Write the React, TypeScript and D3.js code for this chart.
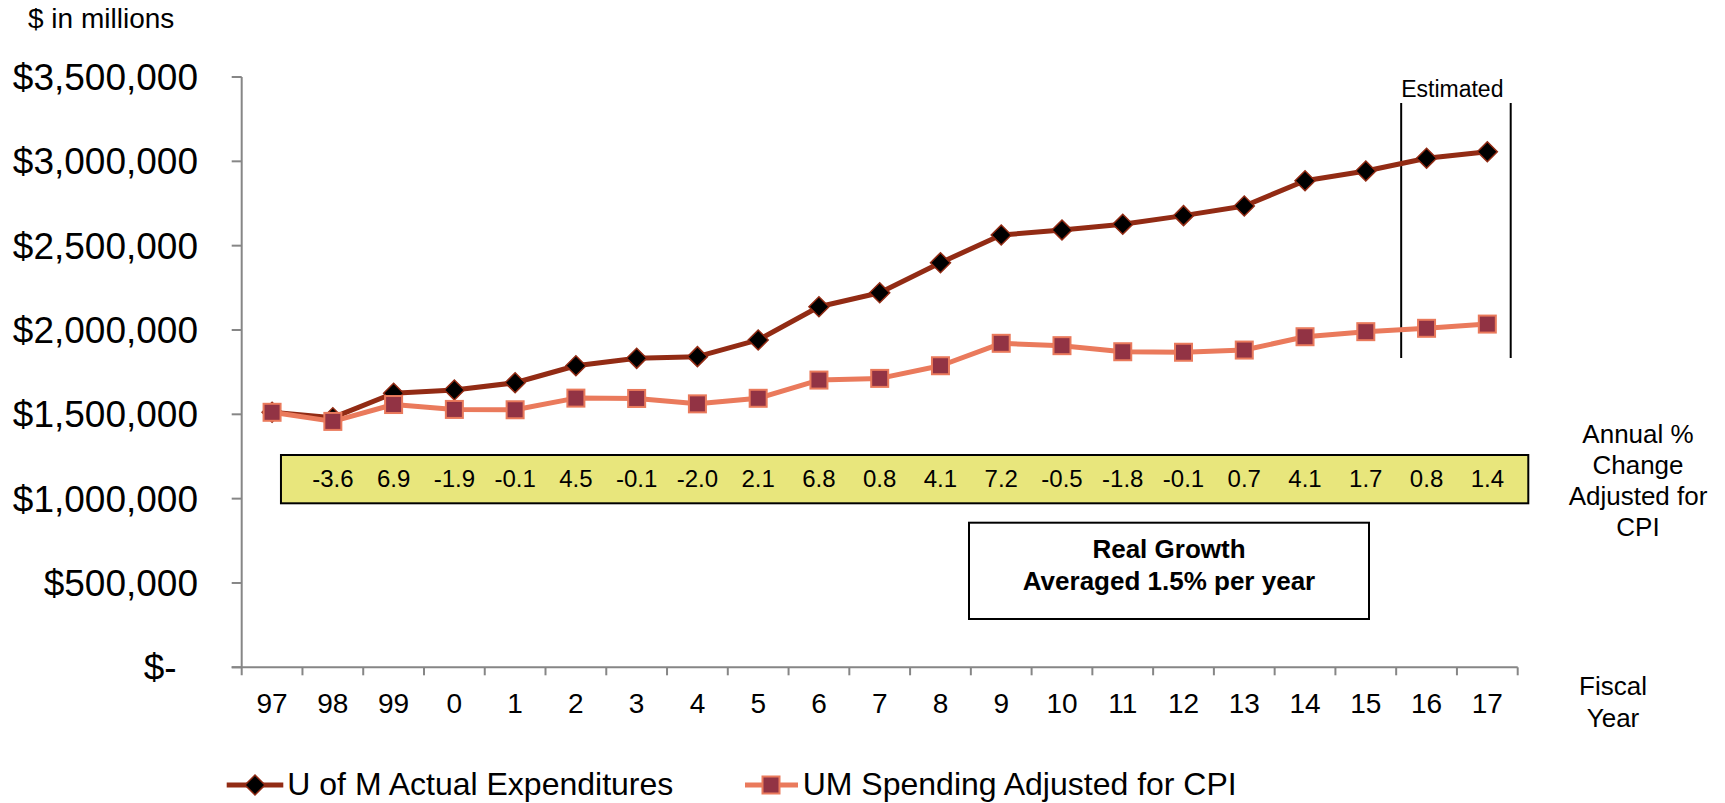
import * as d3 from 'd3';

const years = ['97', '98', '99', '0', '1', '2', '3', '4', '5', '6', '7', '8', '9', '10', '11', '12', '13', '14', '15', '16', '17'];
const actual = [1512000, 1480000, 1625000, 1644000, 1687000, 1788000, 1832000, 1842000, 1941000, 2138000, 2221000, 2399000, 2563000, 2593000, 2627000, 2678000, 2735000, 2885000, 2943000, 3018000, 3057000];
const adjusted = [1512000, 1458000, 1558000, 1529000, 1527000, 1596000, 1594000, 1562000, 1595000, 1703000, 1713000, 1788000, 1921000, 1907000, 1871000, 1868000, 1881000, 1960000, 1990000, 2010000, 2035000];
const pctChange = ['-3.6', '6.9', '-1.9', '-0.1', '4.5', '-0.1', '-2.0', '2.1', '6.8', '0.8', '4.1', '7.2', '-0.5', '-1.8', '-0.1', '0.7', '4.1', '1.7', '0.8', '1.4'];
const yTicks = [0, 500000, 1000000, 1500000, 2000000, 2500000, 3000000, 3500000];

const FONT = 'Liberation Sans, Arial, sans-serif';
const DARK = '#922B14';
const SALMON = '#EA7A5C';
const MAROON = '#923344';
const AXIS = '#868686';

const diamond = (cx, cy, r) => `M${cx},${cy - r}L${cx + r},${cy}L${cx},${cy + r}L${cx - r},${cy}Z`;

export default function App() {
  const width = 1725;
  const height = 803;

  const x = d3.scaleBand().domain(years).range([241.7, 1517.7]).padding(0);
  const y = d3.scaleLinear().domain([0, 3500000]).range([667.3, 77]);
  const cx = (d) => x(d) + x.bandwidth() / 2;
  const fmt = d3.format('$,');

  const line = d3.line().x((d) => cx(d[0])).y((d) => y(d[1]));
  const actualPts = years.map((yr, i) => [yr, actual[i]]);
  const adjPts = years.map((yr, i) => [yr, adjusted[i]]);

  const x0 = x.range()[0];
  const x1 = x.range()[1];
  const y0 = y(0);

  const estL = x('16') + 5;
  const estR = x1 - 7;

  return (
    <svg width={width} height={height} style={{ position: 'absolute', left: 0, top: 0, display: 'block' }} fontFamily={FONT}>
      <rect width={width} height={height} fill="#fff" />

      <text x={28} y={28} fontSize={28}>$ in millions</text>

      {/* y axis */}
      <line x1={x0} x2={x0} y1={y(3500000)} y2={y0 + 8} stroke={AXIS} strokeWidth={2} />
      {yTicks.map((t) => (
        <g key={t}>
          <line x1={x0 - 10} x2={x0} y1={y(t)} y2={y(t)} stroke={AXIS} strokeWidth={2} />
          <text x={t === 0 ? 176.7 : 198} y={y(t)} dy="0.35em" textAnchor="end" fontSize={37}>
            {t === 0 ? '$-' : fmt(t)}
          </text>
        </g>
      ))}

      {/* x axis */}
      <line x1={x0 - 10} x2={x1} y1={y0} y2={y0} stroke={AXIS} strokeWidth={2} />
      {years.map((yr) => (
        <line key={'t' + yr} x1={x(yr) + x.bandwidth()} x2={x(yr) + x.bandwidth()} y1={y0} y2={y0 + 8} stroke={AXIS} strokeWidth={2} />
      ))}
      {years.map((yr) => (
        <text key={'l' + yr} x={cx(yr)} y={713} textAnchor="middle" fontSize={28}>{yr}</text>
      ))}

      <text x={1613} y={695} textAnchor="middle" fontSize={26}>Fiscal</text>
      <text x={1613} y={727} textAnchor="middle" fontSize={26}>Year</text>

      {['Annual %', 'Change', 'Adjusted for', 'CPI'].map((s, i) => (
        <text key={s} x={1638} y={443 + i * 31} textAnchor="middle" fontSize={26}>{s}</text>
      ))}

      {/* estimated bracket */}
      <line x1={estL} x2={estL} y1={103} y2={358} stroke="#000" strokeWidth={2} />
      <line x1={estR} x2={estR} y1={103} y2={358} stroke="#000" strokeWidth={2} />
      <text x={estL} y={97} fontSize={23}>Estimated</text>

      {/* annual change band */}
      <rect x={x('98') - 21.5} y={455} width={x1 + 10.6 - (x('98') - 21.5)} height={48.3} fill="#E8E67C" stroke="#000" strokeWidth={2} />
      {pctChange.map((p, i) => (
        <text key={'p' + i} x={cx(years[i + 1])} y={487} textAnchor="middle" fontSize={24}>{p}</text>
      ))}

      {/* real growth box */}
      <rect x={969} y={522.7} width={400} height={96.3} fill="#fff" stroke="#000" strokeWidth={2} />
      <text x={1169} y={558} textAnchor="middle" fontSize={26} fontWeight="bold">Real Growth</text>
      <text x={1169} y={590} textAnchor="middle" fontSize={26} fontWeight="bold">Averaged 1.5% per year</text>

      {/* series */}
      <path d={line(actualPts)} fill="none" stroke={DARK} strokeWidth={5} strokeLinejoin="round" />
      {actualPts.map((d) => (
        <path key={'d' + d[0]} d={diamond(cx(d[0]), y(d[1]), 10)} fill="#000" stroke={DARK} strokeWidth={1.5} />
      ))}
      <path d={line(adjPts)} fill="none" stroke={SALMON} strokeWidth={5} strokeLinejoin="round" />
      {adjPts.map((d) => (
        <rect key={'s' + d[0]} x={cx(d[0]) - 8.5} y={y(d[1]) - 8.5} width={17} height={17} fill={MAROON} stroke={SALMON} strokeWidth={2} />
      ))}

      {/* legend */}
      <line x1={226.7} x2={283.3} y1={785} y2={785} stroke={DARK} strokeWidth={5} />
      <path d={diamond(255, 785, 10)} fill="#000" stroke={DARK} strokeWidth={1.5} />
      <text x={287.3} y={795} fontSize={32}>U of M Actual Expenditures</text>

      <line x1={745} x2={798} y1={785} y2={785} stroke={SALMON} strokeWidth={5} />
      <rect x={771 - 8.5} y={785 - 8.5} width={17} height={17} fill={MAROON} stroke={SALMON} strokeWidth={2} />
      <text x={802.7} y={795} fontSize={32}>UM Spending Adjusted for CPI</text>
    </svg>
  );
}
